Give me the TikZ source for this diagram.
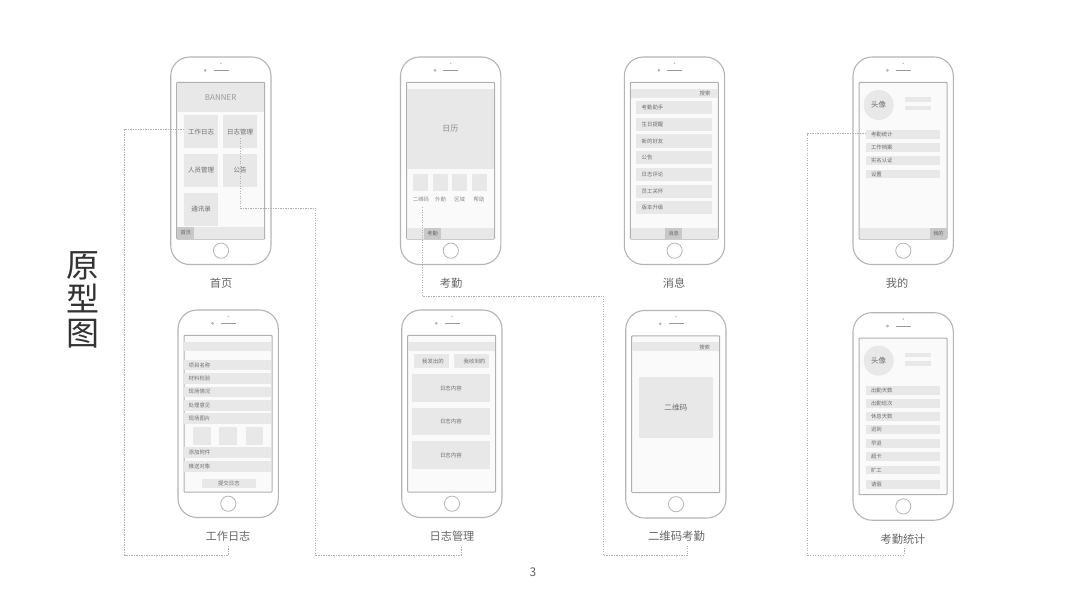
\documentclass[tikz,border=0pt]{standalone}
\usepackage{fontspec}
\setmainfont{Noto Sans CJK SC}
\definecolor{pline}{HTML}{B4B4B4}
\definecolor{scrline}{HTML}{B0B0B0}
\definecolor{scrfill}{HTML}{FAFAFA}
\definecolor{blockc}{HTML}{E8E8E8}
\definecolor{tabc}{HTML}{C9C9C9}
\definecolor{txtc}{HTML}{6E6E6E}
\definecolor{capc}{HTML}{666666}
\definecolor{linkc}{HTML}{B0B0B0}
\definecolor{speakc}{HTML}{999999}
\tikzset{
  x=1pt,y=-1pt,
  body/.style={draw=pline,line width=1.1pt,fill=white,rounded corners=19pt},
  screen/.style={draw=scrline,line width=1pt,fill=scrfill,rounded corners=0.8pt},
  furn/.style={draw=speakc,line width=0.7pt},
  dotf/.style={fill=pline},
  homeb/.style={draw=pline,line width=0.8pt,fill=white},
  block/.style={fill=blockc,inner sep=0pt,outer sep=0pt,text=txtc,font=\fontsize{6.5}{7}\selectfont},
  tabhi/.style={block,fill=tabc,text=capc,font=\fontsize{5.2}{6}\selectfont},
  rowbox/.style={block,align=left,font=\fontsize{5.4}{6}\selectfont},
  caption/.style={text=capc,inner sep=0pt,font=\fontsize{11.2}{14}\selectfont},
  small/.style={text=txtc,inner sep=0pt,font=\fontsize{5.4}{6}\selectfont},
  link/.style={draw=linkc,line width=0.6pt,dash pattern=on 1.4pt off 1.1pt},
}
% phone: x0,y0 top-left of the body
\newcommand\phone[2]{%
  \pgfmathsetmacro\xa{#1}\pgfmathsetmacro\ya{#2}%
  \draw[body] (\xa,\ya) rectangle ++(100.3,207.5);
  \draw[screen] (\xa+6,\ya+25.3) rectangle ++(88,156.7);
  \draw[furn] (\xa+42.8,\ya+13.3) -- ++(15,0);
  \fill[dotf] (\xa+34.5,\ya+13.3) circle (1.5pt);
  \fill[dotf] (\xa+50.2,\ya+6.3) circle (0.8pt);
  \draw[homeb] (\xa+50.3,\ya+193.7) circle (7.6pt);
}
% centred box: name x1 y1 x2 y2 style text
\newcommand\cbox[7][block]{%
  \pgfmathsetmacro\wa{#5-#3}\pgfmathsetmacro\ha{#6-#4}%
  \pgfmathsetmacro\cxa{(#3+#5)/2}\pgfmathsetmacro\cya{(#4+#6)/2}%
  \node[#1,minimum width=\wa pt,minimum height=\ha pt] (#2) at (\cxa,\cya) {#7};
}
% left aligned row: name x1 y1 x2 y2 inset text
\newcommand\lrow[7]{%
  \pgfmathsetmacro\wa{#4-#2-2*#6}\pgfmathsetmacro\ha{#5-#3}%
  \pgfmathsetmacro\cxa{(#2+#4)/2}\pgfmathsetmacro\cya{(#3+#5)/2}%
  \node[rowbox,inner xsep=#6 pt,text width=\wa pt,minimum height=\ha pt] (#1) at (\cxa,\cya) {#7};
}
\begin{document}
\begin{tikzpicture}
\useasboundingbox[fill=white] (0,0) rectangle (1067,600);

% title and page number
\node[inner sep=0pt,align=center,text=black!80,font=\fontsize{33}{34}\selectfont] (title) at (82.5,300) {原\\型\\图};
\node[text=capc,inner sep=0pt,font=\fontsize{12}{14}\selectfont] (pageno) at (533,572.5) {3};

% ---- 首页
\phone{170.7}{57}
\cbox{hm-banner}{177.2}{82.8}{264.2}{111.7}{\textcolor{txtc!70}{\fontsize{8}{9}\selectfont BANNER}}
\cbox{hm-gz}{184.3}{115}{218}{148.3}{工作日志}
\cbox{hm-gl}{223.3}{115}{257}{148.3}{日志管理}
\cbox{hm-ry}{184.3}{154}{218}{187}{人员管理}
\cbox{hm-gg}{223.3}{154}{257}{187}{公告}
\cbox{hm-tx}{184.3}{193}{218}{226}{通讯录}
\cbox{hm-bar}{177.2}{227.3}{264.2}{238.6}{}
\cbox[tabhi]{hm-tab}{177.2}{227.3}{194.3}{238.6}{首页}
\node[caption] (cap-hm) at (221,283.5) {首页};

% ---- 考勤
\phone{400.5}{57}
\cbox{kq-cal}{406.9}{89}{493.6}{168.7}{\textcolor{txtc!80}{\fontsize{8}{9}\selectfont 日历}}
\cbox{kq-s1}{413.3}{174.3}{428.3}{191}{}
\cbox{kq-s2}{432.7}{174.3}{447.7}{191}{}
\cbox{kq-s3}{452.3}{174.3}{467.3}{191}{}
\cbox{kq-s4}{472}{174.3}{487}{191}{}
\node[small,text=txtc!80] (kq-l1) at (421,199.7) {二维码};
\node[small,text=txtc!80] (kq-l2) at (440.5,199.7) {外勤};
\node[small,text=txtc!80] (kq-l3) at (459.7,199.7) {区域};
\node[small,text=txtc!80] (kq-l4) at (479,199.7) {帮助};
\cbox{kq-bar}{406.9}{228}{493.6}{238.6}{}
\cbox[tabhi]{kq-tab}{423.7}{228}{441.3}{238.6}{考勤}
\node[caption] (cap-kq) at (451,283.5) {考勤};

% ---- 消息
\phone{624.3}{57}
\cbox{xx-bar}{630.8}{89}{717.6}{97.7}{}
\node[small] (xx-s) at (705,93.3) {搜索};
\lrow{xx-1}{636.3}{101}{712}{114.3}{5.4}{考勤助手}
\lrow{xx-2}{636.3}{117.7}{712}{131}{5.4}{生日提醒}
\lrow{xx-3}{636.3}{134.3}{712}{147.7}{5.4}{新的好友}
\lrow{xx-4}{636.3}{151}{712}{164.3}{5.4}{公告}
\lrow{xx-5}{636.3}{168}{712}{181}{5.4}{日志评论}
\lrow{xx-6}{636.3}{184.7}{712}{197.7}{5.4}{员工关怀}
\lrow{xx-7}{636.3}{201.3}{712}{214.3}{5.4}{版本升级}
\cbox{xx-tb}{630.8}{228}{717.6}{238.6}{}
\cbox[tabhi]{xx-tab}{664.7}{228}{682.3}{238.6}{消息}
\node[caption] (cap-xx) at (674,283.5) {消息};

% ---- 我的
\phone{853}{57}
\node[circle,fill=blockc,minimum size=30pt,inner sep=0pt,text=txtc,font=\fontsize{7.5}{8}\selectfont] (wd-av) at (878.7,105) {头像};
\cbox{wd-a}{905.3}{97}{931.3}{101.7}{}
\cbox{wd-b}{905.3}{105.7}{931.3}{110}{}
\lrow{wd-1}{866}{130}{940.3}{139}{5}{考勤统计}
\lrow{wd-2}{866}{143.3}{940.3}{152}{5}{工作档案}
\lrow{wd-3}{866}{156.3}{940.3}{165}{5}{实名认证}
\lrow{wd-4}{866}{169.7}{940.3}{178.3}{5}{设置}
\cbox{wd-bar}{859.5}{228}{946.6}{238.6}{}
\cbox[tabhi]{wd-tab}{930.3}{228}{946.6}{238.6}{我的}
\node[caption] (cap-wd) at (897,283.5) {我的};

% ---- 工作日志
\phone{178}{310}
\cbox{gz-bar}{184.3}{342.3}{271.2}{351}{}
\lrow{gz-1}{184.3}{360}{271.2}{370.3}{4.4}{项目名称}
\lrow{gz-2}{184.3}{373.3}{271.2}{384}{4.4}{材料检验}
\lrow{gz-3}{184.3}{386.7}{271.2}{397}{4.4}{现场情况}
\lrow{gz-4}{184.3}{400}{271.2}{410.7}{4.4}{处理意见}
\lrow{gz-5}{184.3}{413}{271.2}{424}{4.4}{现场图片}
\cbox{gz-s1}{193}{427}{210.7}{445}{}
\cbox{gz-s2}{219.3}{427}{237}{445}{}
\cbox{gz-s3}{245.7}{427}{263.3}{445}{}
\lrow{gz-6}{184.3}{447}{271.2}{458}{4.4}{添加附件}
\lrow{gz-7}{184.3}{461}{271.2}{471.7}{4.4}{推送对象}
\cbox[block,font=\fontsize{5.4}{6}\selectfont]{gz-btn}{201.7}{479}{256}{487.7}{提交日志}
\node[caption] (cap-gz) at (228,536.5) {工作日志};

% ---- 日志管理
\phone{401.7}{310}
\cbox{gl-bar}{408.2}{342.3}{495.2}{351}{}
\cbox[block,font=\fontsize{5.4}{6}\selectfont]{gl-b1}{414}{354}{449}{368}{\hspace{3pt}我发出的}
\cbox[block,font=\fontsize{5.4}{6}\selectfont]{gl-b2}{454}{354}{489}{368}{\hspace{6pt}我收到的}
\cbox[block,font=\fontsize{5.4}{6}\selectfont]{gl-c1}{412}{374.3}{489.7}{402}{日志内容}
\cbox[block,font=\fontsize{5.4}{6}\selectfont]{gl-c2}{412}{408}{489.7}{435.3}{日志内容}
\cbox[block,font=\fontsize{5.4}{6}\selectfont]{gl-c3}{412}{441}{489.7}{469}{日志内容}
\node[caption] (cap-gl) at (452,536.5) {日志管理};

% ---- 二维码考勤
\phone{625.7}{310.5}
\cbox{ew-bar}{632.2}{342.3}{719.2}{351}{}
\node[small] (ew-s) at (704.7,347) {搜索};
\cbox[block,font=\fontsize{7.7}{8}\selectfont]{ew-qr}{638.7}{377.3}{713}{438}{二维码}
\node[caption,font=\fontsize{11.4}{14}\selectfont] (cap-ew) at (676.5,536.5) {二维码考勤};

% ---- 考勤统计
\phone{853}{312.7}
\node[circle,fill=blockc,minimum size=30pt,inner sep=0pt,text=txtc,font=\fontsize{7.5}{8}\selectfont] (tj-av) at (878.7,360.7) {头像};
\cbox{tj-a}{905.3}{352.7}{931.3}{357.3}{}
\cbox{tj-b}{905.3}{361}{931.3}{365.7}{}
\lrow{tj-1}{866}{385.7}{940.3}{394.7}{5}{出勤天数}
\lrow{tj-2}{866}{399}{940.3}{407.7}{5}{出勤班次}
\lrow{tj-3}{866}{412}{940.3}{420.7}{5}{休息天数}
\lrow{tj-4}{866}{425.3}{940.3}{434}{5}{迟到}
\lrow{tj-5}{866}{439}{940.3}{448}{5}{早退}
\lrow{tj-6}{866}{452.3}{940.3}{461}{5}{超卡}
\lrow{tj-7}{866}{465.7}{940.3}{474.3}{5}{旷工}
\lrow{tj-8}{866}{480}{940.3}{489}{5}{请假}
\node[caption] (cap-tj) at (903,539) {考勤统计};

% ---- connectors
\coordinate (a0) at (hm-gz.north west |- 0,129);
\coordinate (a1) at (124.5,129);
\coordinate (a2) at (124.5,555);
\coordinate (a3) at (228.5,555);
\coordinate (a4) at (228.5,546);
\draw[link] (a0) -- (a1) -- (a2) -- (a3) -- (a4);

\coordinate (b0) at (240.2,138);
\coordinate (b1) at (240.2,208);
\coordinate (b2) at (315.7,208);
\coordinate (b3) at (315.7,555);
\coordinate (b4) at (461.5,555);
\coordinate (b5) at (461.5,546);
\draw[link] (b0) -- (b1) -- (b2) -- (b3) -- (b4) -- (b5);

\coordinate (c0) at (422.3,207);
\coordinate (c1) at (422.3,296);
\coordinate (c2) at (603.3,296);
\coordinate (c3) at (603.3,555.5);
\coordinate (c4) at (687.7,555.5);
\coordinate (c5) at (687.7,546);
\draw[link] (c0) -- (c1) -- (c2) -- (c3) -- (c4) -- (c5);

\coordinate (d0) at (wd-1.north west |- 0,133.5);
\coordinate (d1) at (807.5,133.5);
\coordinate (d2) at (807.5,555);
\coordinate (d3) at (904,555);
\coordinate (d4) at (904,547);
\draw[link] (d0) -- (d1) -- (d2) -- (d3) -- (d4);
\end{tikzpicture}
\end{document}
